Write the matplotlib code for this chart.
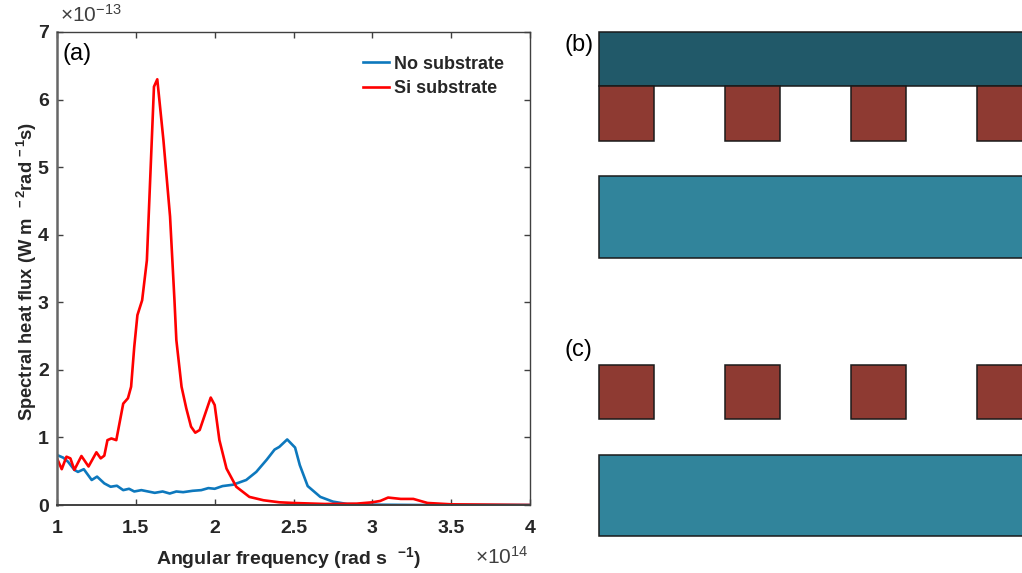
import matplotlib
matplotlib.use("Agg")
import matplotlib.pyplot as plt
from matplotlib.patches import Rectangle

plt.rcParams['font.family'] = ['Liberation Sans', 'DejaVu Sans']
plt.rcParams['mathtext.default'] = 'regular'

# spectra, x in 1e14 rad/s, y in 1e-13
red_x = [1.0, 1.03, 1.06, 1.085, 1.11, 1.155, 1.2, 1.25, 1.277, 1.3, 1.32, 1.345, 1.376, 1.42, 1.45,
         1.47, 1.49, 1.51, 1.54, 1.57, 1.615, 1.636, 1.675, 1.717, 1.745, 1.757, 1.79, 1.82, 1.85, 1.877,
         1.905, 1.937, 1.975, 2.0, 2.03, 2.075, 2.137, 2.22, 2.31, 2.41, 2.5, 2.7, 2.9, 3.0, 3.05,
         3.1, 3.18, 3.26, 3.35, 3.5, 4.0]
red_y = [0.69, 0.53, 0.715, 0.69, 0.52, 0.725, 0.57, 0.78, 0.69, 0.73, 0.96, 0.985, 0.96, 1.5, 1.58,
         1.75, 2.34, 2.81, 3.03, 3.62, 6.19, 6.3, 5.4, 4.27, 3.03, 2.44, 1.75, 1.43, 1.16, 1.07,
         1.11, 1.33, 1.59, 1.48, 0.96, 0.54, 0.27, 0.12, 0.07, 0.04, 0.03, 0.015, 0.02, 0.04, 0.06,
         0.11, 0.09, 0.09, 0.03, 0.01, 0.0]
blue_x = [1.0, 1.04, 1.07, 1.11, 1.133, 1.17, 1.22, 1.254, 1.3, 1.34, 1.38, 1.42, 1.457, 1.49, 1.535,
          1.62, 1.67, 1.715, 1.757, 1.8, 1.86, 1.915, 1.96, 2.0, 2.05, 2.116, 2.2, 2.264, 2.33, 2.38,
          2.41, 2.46, 2.51, 2.54, 2.59, 2.67, 2.75, 2.84, 3.0, 3.3, 4.0]
blue_y = [0.74, 0.7, 0.64, 0.52, 0.49, 0.53, 0.37, 0.42, 0.32, 0.27, 0.285, 0.22, 0.24, 0.2, 0.22,
          0.18, 0.2, 0.17, 0.2, 0.19, 0.21, 0.22, 0.25, 0.24, 0.28, 0.3, 0.37, 0.49, 0.67, 0.82,
          0.86, 0.97, 0.85, 0.59, 0.28, 0.12, 0.05, 0.015, 0.005, 0.0, 0.0]

x_ticks = [1, 1.5, 2, 2.5, 3, 3.5, 4]
x_tick_labels = ['1', '1.5', '2', '2.5', '3', '3.5', '4']
y_ticks = [0, 1, 2, 3, 4, 5, 6, 7]

# schematic blocks, pixel coords of the source image: left, top, right, bottom
brick_lefts = [599, 725, 851, 977]
brick_width = 55
top_slab = (599, 32, 1023, 86)
b_bricks = (86, 141)
b_slab = (599, 176, 1023, 258)
c_bricks = (365, 419)
c_slab = (599, 455, 1023, 536)

W, H = 1022, 573
dark = '#404040'
fig = plt.figure(figsize=(W / 100, H / 100), dpi=100)

ax = fig.add_axes([57 / W, (H - 505) / H, 473 / W, 473 / H])
ax.plot(blue_x, blue_y, color='#0d78bd', lw=1.9, label='No substrate')
ax.plot(red_x, red_y, color='#ff0000', lw=1.9, label='Si substrate')
ax.set_xlim(1, 4)
ax.set_ylim(0, 7)
ax.set_xticks(x_ticks)
ax.set_xticklabels(x_tick_labels)
ax.set_yticks(y_ticks)
ax.tick_params(direction='in', top=True, right=True, length=4, width=1, color=dark,
               labelsize=14, labelcolor='#262626')
ax.tick_params(axis='x', pad=11)
ax.tick_params(axis='y', pad=6)
for lab in ax.get_xticklabels() + ax.get_yticklabels():
    lab.set_fontweight('bold')
for name, sp in ax.spines.items():
    sp.set_color(dark)
    sp.set_linewidth(1)
ax.spines['left'].set_linewidth(1.8)
ax.spines['left'].set_color('#666666')
ax.spines['bottom'].set_linewidth(1.4)

leg = ax.legend(loc='upper right', bbox_to_anchor=(0.945, 0.95), frameon=False, handlelength=1.4,
                handletextpad=0.3, labelspacing=0.4, borderaxespad=0, borderpad=0,
                prop={'size': 13, 'weight': 'bold'})
for t in leg.get_texts():
    t.set_color('#262626')

# overlay in source pixels for labels and schematic
ov = fig.add_axes([0, 0, 1, 1])
ov.set_xlim(0, W)
ov.set_ylim(H, 0)
ov.axis('off')
ov.patch.set_alpha(0)

bold = dict(fontweight='bold', color='#262626')
ov.text(27, 271, 'Spectral heat flux (W m $^{\\,-2}$rad$^{\\,-1}$s)', rotation=90, ha='center', va='center',
        fontsize=13.2, **bold)
ov.text(289, 558, 'Angular frequency (rad s  $^{-1}$)', ha='center', va='center', fontsize=14, **bold)
ov.text(60, 15, '\u00d710$^{-13}$', ha='left', va='center', fontsize=15, color='#404040')
ov.text(475, 557, '\u00d710$^{14}$', ha='left', va='center', fontsize=15, color='#404040')
ov.text(63, 54, '(a)', ha='left', va='center', fontsize=17, color='black')
ov.text(565, 45, '(b)', ha='left', va='center', fontsize=17, color='black')
ov.text(565, 350, '(c)', ha='left', va='center', fontsize=17, color='black')


def block(left, top, right, bottom, color):
    ov.add_patch(Rectangle((left, top), right - left, bottom - top, facecolor=color,
                           edgecolor='#1a1a1a', lw=1.1, clip_on=True))


block(*top_slab, '#215969')
block(*b_slab, '#31849b')
block(*c_slab, '#31849b')
for left in brick_lefts:
    block(left, b_bricks[0], left + brick_width, b_bricks[1], '#8e3a32')
    block(left, c_bricks[0], left + brick_width, c_bricks[1], '#8e3a32')

fig.savefig('out.png', dpi=100)
